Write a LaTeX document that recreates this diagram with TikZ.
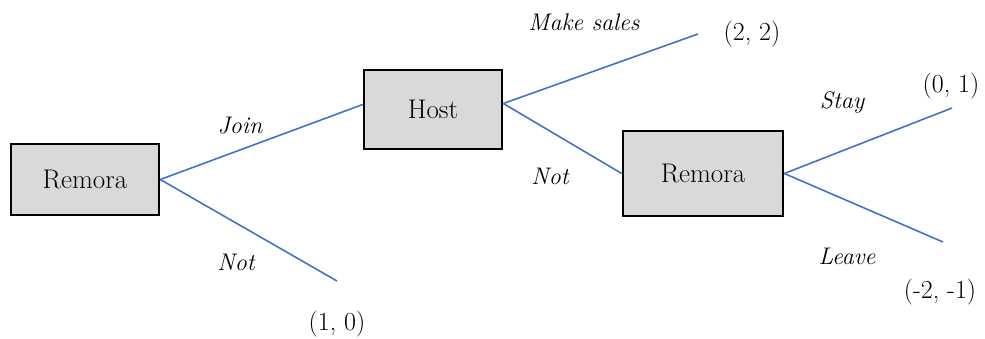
\documentclass[tikz,border=0pt]{standalone}
\usepackage{fontspec}
\definecolor{branch}{RGB}{68,114,196}
\definecolor{boxfill}{RGB}{217,217,217}
\tikzset{
  player/.style={draw=black, line width=2.6pt, fill=boxfill, inner sep=0pt,
    font=\fontsize{27}{32}\selectfont},
  branchline/.style={draw=branch, line width=1.6pt},
  act/.style={font=\fontsize{24}{28}\selectfont\itshape, inner sep=0pt},
  pay/.style={font=\fontsize{26}{30}\selectfont, inner sep=0pt}
}
\begin{document}
\begin{tikzpicture}[x=1pt, y=-1pt]
\useasboundingbox (0,0) rectangle (985,338);
\node[player, minimum width=148pt, minimum height=71pt] (r1) at (85,179.5) {Remora};
\node[player, minimum width=138pt, minimum height=79pt] (host) at (433,109.5) {Host};
\node[player, minimum width=160pt, minimum height=85pt] (r2) at (703,173.5) {Remora};
\coordinate (notend) at (337,281);
\coordinate (salesend) at (698,34);
\coordinate (stayend) at (952,108);
\coordinate (leaveend) at (943,242);
\draw[branchline] (r1.east) -- ([yshift=5pt]host.west);
\draw[branchline] (r1.east) -- (notend);
\draw[branchline] ([yshift=6pt]host.east) -- (salesend);
\draw[branchline] ([yshift=6pt]host.east) -- (r2.west);
\draw[branchline] (r2.east) -- (stayend);
\draw[branchline] (r2.east) -- (leaveend);
\node[act] (join) at (240,126) {Join};
\node[act] (not1) at (236,262) {Not};
\node[act] (sales) at (584,22) {Make sales};
\node[act] (not2) at (550,176) {Not};
\node[act] (stay) at (842,102) {Stay};
\node[act] (leave) at (847,256) {Leave};
\node[pay] (p1) at (337,324) {(1, 0)};
\node[pay] (p2) at (752,34) {(2, 2)};
\node[pay] (p3) at (951,86) {(0, 1)};
\node[pay] (p4) at (940,292) {(-2, -1)};
\end{tikzpicture}
\end{document}
